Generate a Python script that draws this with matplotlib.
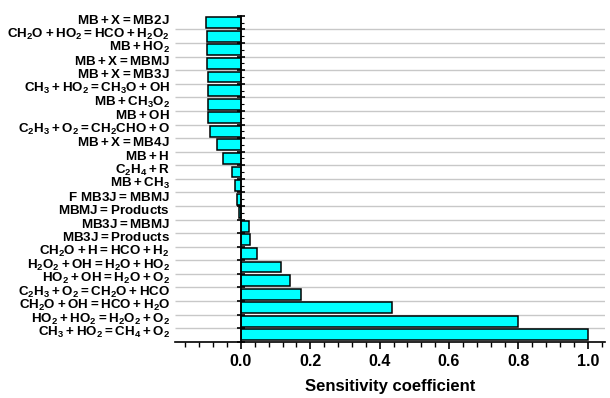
import numpy as np
import matplotlib
matplotlib.use("Agg")
from matplotlib import pyplot as plt
from matplotlib import transforms
from matplotlib.ticker import FixedLocator, NullFormatter

plt.rcParams['font.family'] = ['Liberation Sans', 'DejaVu Sans']
plt.rcParams['mathtext.fontset'] = 'custom'
plt.rcParams['mathtext.rm'] = 'Liberation Sans'
plt.rcParams['mathtext.bf'] = 'Liberation Sans:bold'

# reactions, top to bottom
reactions = [
    'MB + X = MB2J',
    'CH_2O + HO_2 = HCO + H_2O_2',
    'MB + HO_2',
    'MB + X = MBMJ',
    'MB + X = MB3J',
    'CH_3 + HO_2 = CH_3O + OH',
    'MB + CH_3O_2',
    'MB + OH',
    'C_2H_3 + O_2 = CH_2CHO + O',
    'MB + X = MB4J',
    'MB + H',
    'C_2H_4 + R',
    'MB + CH_3',
    'F MB3J = MBMJ',
    'MBMJ = Products',
    'MB3J = MBMJ',
    'MB3J = Products',
    'CH_2O + H = HCO + H_2',
    'H_2O_2 + OH = H_2O + HO_2',
    'HO_2 + OH = H_2O + O_2',
    'C_2H_3 + O_2 = CH_2O + HCO',
    'CH_2O + OH = HCO + H_2O',
    'HO_2 + HO_2 = H_2O_2 + O_2',
    'CH_3 + HO_2 = CH_4 + O_2',
]
sensitivity = [
    -0.100, -0.099, -0.098, -0.097, -0.095, -0.095, -0.094, -0.094,
    -0.089, -0.068, -0.053, -0.025, -0.016, -0.010, -0.006,
    0.024, 0.027, 0.045, 0.116, 0.141, 0.174, 0.435, 0.799, 1.0,
]
x_ticks = [0.0, 0.2, 0.4, 0.6, 0.8, 1.0]


def to_math(s):
    s = s.replace(' + ', '+').replace(' = ', '=').replace(' ', r'\ ')
    return r'$\mathbf{' + s + '}$'


n = len(reactions)
ypos = np.arange(n)

fig = plt.figure(figsize=(6.1, 3.98), dpi=100)
ax = fig.add_axes([0.287, 0.1415, 0.705, 0.8185])

ax.hlines(np.arange(n - 1) + 0.5, -0.19, 1.05, color='#c8c8c8', lw=1, zorder=0)
ax.barh(ypos, sensitivity, height=0.8, color='#00ffff', edgecolor='black',
        linewidth=1.1, zorder=2)

ax.set_xlim(-0.19, 1.05)
ax.set_ylim(n - 0.5, -0.5)

for sp in ['top', 'right']:
    ax.spines[sp].set_visible(False)
ax.spines['left'].set_position(('data', 0))
ax.spines['left'].set_zorder(3)
ax.spines['left'].set_linewidth(1.2)
ax.spines['bottom'].set_linewidth(1.2)

# y ticks: major at row borders, minor at row centres, labels drawn by hand
ax.yaxis.set_major_locator(FixedLocator(np.arange(n + 1) - 0.5))
ax.yaxis.set_minor_locator(FixedLocator(ypos))
ax.yaxis.set_major_formatter(NullFormatter())
ax.tick_params(axis='y', which='major', direction='inout', length=6, width=1.2)
ax.tick_params(axis='y', which='minor', direction='in', length=2, width=0.8)

trans = transforms.blended_transform_factory(ax.transAxes, ax.transData)
for y, lab in zip(ypos, reactions):
    ax.text(-0.012, y - 0.15, to_math(lab), transform=trans,
            ha='right', va='center', fontsize=9.6)

ax.set_xticks(x_ticks)
ax.set_xticklabels(['%.1f' % v for v in x_ticks], fontweight='bold', fontsize=11.5)
ax.xaxis.set_minor_locator(FixedLocator(np.arange(-0.16, 1.05, 0.04)))
ax.tick_params(axis='x', which='major', direction='out', length=5, width=1.2, pad=4)
ax.tick_params(axis='x', which='minor', direction='out', length=3.5, width=1)

ax.set_xlabel('Sensitivity coefficient', fontweight='bold', fontsize=12, labelpad=7)

fig.savefig('out.png', dpi=100)
